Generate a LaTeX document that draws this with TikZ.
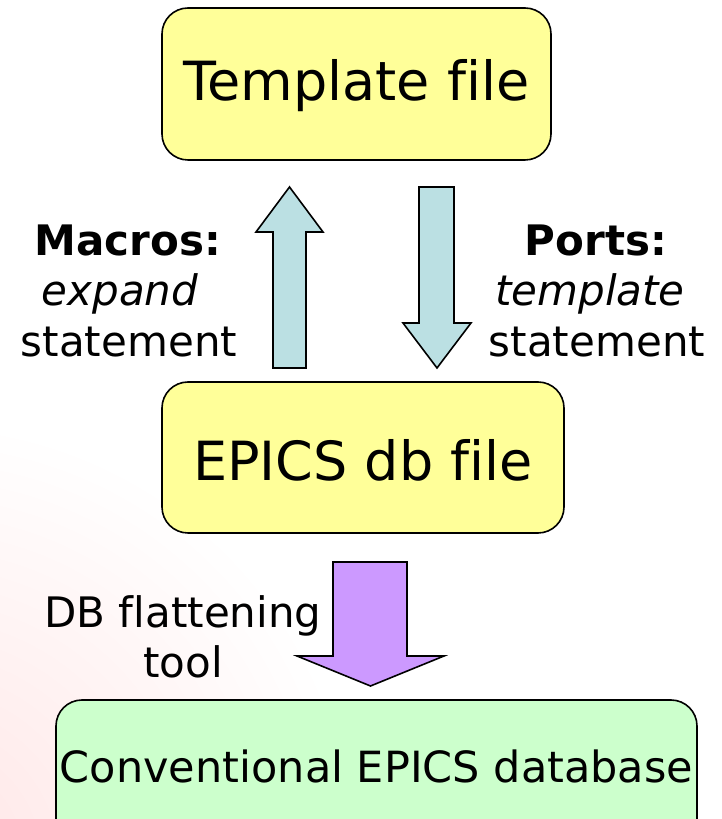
\documentclass[tikz,border=0pt]{standalone}
\usepackage{fontspec}
\setmainfont[Ligatures=NoCommon]{DejaVu Sans}
\begin{document}
\begin{tikzpicture}[x=1pt,y=1pt,
  box/.style={draw=black,line width=1.6pt,rounded corners=26pt,inner sep=0pt},
  blk/.style={draw=black,line width=1.6pt,line join=miter},
  big/.style={font=\fontsize{54}{60}\selectfont},
  lbl/.style={font=\fontsize{42}{48}\selectfont,anchor=base,inner sep=0pt}]
\definecolor{yel}{HTML}{FFFF99}
\definecolor{cyanbox}{HTML}{BBE0E3}
\definecolor{purp}{HTML}{CC99FF}
\definecolor{grn}{HTML}{CCFFCC}
\useasboundingbox (0,0) rectangle (721,819);
\begin{scope}
\clip (0,0) rectangle (721,819);
\shade[inner color=red!10, outer color=white] (-80,-40) circle (440);
\end{scope}
% boxes
\node[box,fill=yel,minimum width=389pt,minimum height=152pt] (tpl) at (356.5,735) {};
\node[big] (tpltxt) at (356.5,733) {Template file};
\node[box,fill=yel,minimum width=402pt,minimum height=151pt] (db) at (363,361.5) {};
\node[big] (dbtxt) at (363,359) {EPICS db file};
\begin{scope}
\clip (0,0) rectangle (721,819);
\node[box,fill=grn,minimum width=641pt,minimum height=150pt] (conv) at (376.5,44) {};
\end{scope}
\node[font=\fontsize{43}{48}\selectfont] (convtxt) at (376.5,53) {Conventional EPICS database};
% arrows
\draw[blk,fill=cyanbox] (289.5,632) -- (323,587) -- (306,587) -- (306,451) -- (273,451) -- (273,587) -- (256,587) -- cycle;
\draw[blk,fill=cyanbox] (437,451) -- (471,496) -- (454,496) -- (454,632) -- (419,632) -- (419,496) -- (403,496) -- cycle;
\draw[blk,fill=purp] (370.5,133) -- (444,163) -- (407,163) -- (407,257) -- (333,257) -- (333,163) -- (297,163) -- cycle;
% labels
\node[lbl,font=\fontsize{42}{48}\selectfont\bfseries] (m1) at (128,563) {Macros:};
\node[lbl,font=\fontsize{42}{48}\selectfont\itshape] (m2) at (120,513) {expand};
\node[lbl] (m3) at (129,462) {statement};
\node[lbl,font=\fontsize{42}{48}\selectfont\bfseries] (p1) at (596,563) {Ports:};
\node[lbl,font=\fontsize{42}{48}\selectfont\itshape] (p2) at (590,513) {template};
\node[lbl] (p3) at (597,462) {statement};
\node[lbl] (f1) at (183,191) {DB flattening};
\node[lbl] (f2) at (183,141) {tool};
\end{tikzpicture}
\end{document}
